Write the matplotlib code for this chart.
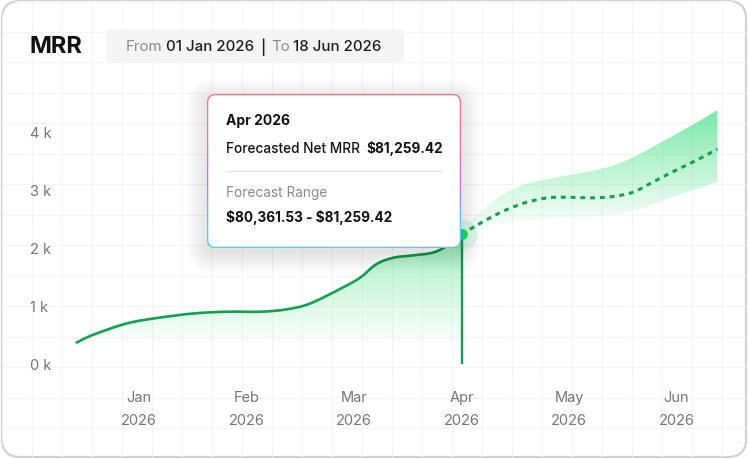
import numpy as np
import matplotlib
matplotlib.use('Agg')
import matplotlib.pyplot as plt
from matplotlib.patches import FancyBboxPatch, PathPatch
from matplotlib.path import Path
from matplotlib.colors import to_rgb

plt.rcParams['font.family'] = ['Inter', 'DejaVu Sans']

# values in thousands, x in months counted from Jan 2026
months = ['Jan', 'Feb', 'Mar', 'Apr', 'May', 'Jun']
year = '2026'
y_ticks = [0, 1, 2, 3, 4]
actual_x = [-0.58, -0.43, -0.11, 0.2, 0.51, 0.82, 1.13, 1.37, 1.59, 1.9, 2.06, 2.21, 2.37, 2.55, 2.74, 2.89, 3.0]
actual_y = [0.37, 0.5, 0.7, 0.8, 0.87, 0.9, 0.9, 0.94, 1.04, 1.32, 1.49, 1.72, 1.83, 1.87, 1.92, 2.06, 2.23]
fc_x = [3.0, 3.2, 3.4, 3.6, 3.8, 4.0, 4.2, 4.4, 4.6, 4.8, 5.0, 5.2, 5.38]
fc_mid = [2.23, 2.45, 2.64, 2.78, 2.86, 2.87, 2.86, 2.88, 2.96, 3.15, 3.34, 3.52, 3.70]
fc_hi = [2.3, 2.66, 2.93, 3.10, 3.18, 3.25, 3.32, 3.41, 3.56, 3.76, 3.96, 4.17, 4.37]
fc_lo = [2.2, 2.33, 2.42, 2.46, 2.50, 2.52, 2.54, 2.57, 2.63, 2.76, 2.90, 3.02, 3.14]
tip_title = 'Apr 2026'
tip_value = '$81,259.42'
tip_range = '$80,361.53 - $81,259.42'

W, H = 748, 460
fig = plt.figure(figsize=(W / 100, H / 100), dpi=100)
renderer = fig.canvas.get_renderer()


def pixel_axes(z):
    a = fig.add_axes([0, 0, 1, 1])
    a.set_xlim(0, W)
    a.set_ylim(H, 0)
    a.axis('off')
    a.set_zorder(z)
    a.patch.set_visible(False)
    return a


def spline(xs, ys):
    # smooth curve through the points, drawn as cubic bezier segments
    p = np.column_stack([xs, ys]).astype(float)
    q = np.vstack([p[0], p, p[-1]])
    verts = [p[0]]
    for i in range(len(p) - 1):
        a, b, c, d = q[i], q[i + 1], q[i + 2], q[i + 3]
        verts += [b + (c - a) / 6, c - (d - b) / 6, c]
    codes = [Path.MOVETO] + [Path.CURVE4] * (len(verts) - 1)
    return verts, codes


# card + faint background grid
bg = pixel_axes(0)
card = FancyBboxPatch((2, 2), W - 4, H - 4, boxstyle='round,pad=0,rounding_size=18',
                      fc='white', ec='#d2d2d2', lw=1.6)
bg.add_patch(card)
for gx in np.arange(2, W, 30):
    ln, = bg.plot([gx, gx], [0, H], color='#f4f4f4', lw=0.8)
    ln.set_clip_path(card)
for gy in np.arange(2, H, 30.5):
    ln, = bg.plot([0, W], [gy, gy], color='#f4f4f4', lw=0.8)
    ln.set_clip_path(card)

# header
bg.text(30, 47, 'MRR', fontsize=17, fontweight='bold', color='#111111', va='center')
bg.add_patch(FancyBboxPatch((106, 30), 298, 33, boxstyle='round,pad=0,rounding_size=4',
                            fc='#f4f4f4', ec='none'))
x = 126
for s, c, wt, gap in [('From', '#8a8a8a', 'normal', 3.5), ('01 Jan 2026', '#1c1c1c', 'medium', 6),
                      ('|', '#1c1c1c', 'medium', 6), ('To', '#8a8a8a', 'normal', 2.5),
                      ('18 Jun 2026', '#1c1c1c', 'medium', 0)]:
    t = bg.text(x, 47, s, fontsize=10.8, color=c, fontweight=wt, va='center', parse_math=False)
    x = t.get_window_extent(renderer).x1 + gap

# chart axes, placed so that Jan..Jun and 0k..4k fall where they do in the reference
px0, py0, sx, sy = 139, 365, 107.5, 58.1
L, R, T, B = 70, 735, 90, 365
ax = fig.add_axes([L / W, 1 - B / H, (R - L) / W, (B - T) / H])
ax.set_zorder(1)
ax.patch.set_visible(False)


def gradient_image(clip, xs, color, amax, y0, y1, power=1.0):
    ys = np.linspace(0, 1, 256) ** power
    img = np.zeros((256, 2, 4))
    img[..., :3] = to_rgb(color)
    img[..., 3] = (amax * ys)[:, None]
    im = ax.imshow(img, extent=[min(xs), max(xs), y0, y1], origin='lower', aspect='auto',
                   interpolation='bilinear', zorder=2)
    im.set_clip_path(clip, transform=ax.transData)


# area under the actual line
v, c = spline(actual_x, actual_y)
v = v + [(actual_x[-1], 0), (actual_x[0], 0), (actual_x[0], 0)]
c = c + [Path.LINETO, Path.LINETO, Path.CLOSEPOLY]
gradient_image(Path(v, c), actual_x, '#3ee07f', 0.48, 0.3, 2.3)

# forecast range band
vt, ct = spline(fc_x, fc_hi)
vb, cb = spline(fc_x[::-1], fc_lo[::-1])
cb[0] = Path.LINETO
band = Path(vt + vb + [vt[0]], ct + cb + [Path.CLOSEPOLY])
gradient_image(band, fc_x, '#3ee07f', 0.72, 2.2, 4.4, power=1.15)

v, c = spline(actual_x, actual_y)
ax.add_patch(PathPatch(Path(v, c), fill=False, ec='#12a14f', lw=1.9, capstyle='round', zorder=4))
v, c = spline(fc_x, fc_mid)
ax.add_patch(PathPatch(Path(v, c), fill=False, ec='#12a14f', lw=2.2, linestyle=(0, (1.6, 1.6)), zorder=4))
hx, hy = fc_x[0], fc_mid[0]
ax.plot([hx, hx], [0, hy], color='#12a14f', lw=1.7, zorder=4)
ax.scatter([hx], [hy], s=470, color='#22e06a', alpha=0.15, lw=0, zorder=5)
ax.scatter([hx], [hy], s=60, color='#1fe36b', lw=0, zorder=6)

ax.set_xlim((L - px0) / sx, (R - px0) / sx)
ax.set_ylim((py0 - B) / sy, (py0 - T) / sy)
ax.set_xticks(range(len(months)))
ax.set_xticklabels([f'{m}\n{year}' for m in months], fontsize=10.5, color='#757575', linespacing=1.8)
ax.set_yticks(y_ticks)
ax.set_yticklabels([f'{v} k' for v in y_ticks], fontsize=10.5, color='#757575')
for lab in ax.get_yticklabels():
    lab.set_horizontalalignment('left')
ax.tick_params(axis='y', length=0, pad=(L - 30) * 0.72)
ax.tick_params(axis='x', length=0, pad=19)
for sp in ax.spines.values():
    sp.set_visible(False)

# tooltip
tp = pixel_axes(3)
bx0, by0, bx1, by1 = 207, 95, 461, 249
for i in range(14):
    tp.add_patch(FancyBboxPatch((bx0 - i * 1.6, by0 - i * 1.6 + 5), bx1 - bx0 + i * 3.2, by1 - by0 + i * 3.2,
                                boxstyle=f'round,pad=0,rounding_size={8 + i * 1.6}',
                                fc='black', ec='none', alpha=0.006))
outer = FancyBboxPatch((bx0, by0), bx1 - bx0, by1 - by0, boxstyle='round,pad=0,rounding_size=8',
                       fc='none', ec='none')
tp.add_patch(outer)
stops = [0.0, 0.4, 0.6, 0.75, 0.9, 1.0]
cols = [to_rgb(c) for c in ['#ff7484', '#ee6cb4', '#c272e0', '#86a6f2', '#3cdae0', '#4ed4ea']]
tv = np.linspace(0, 1, 200)
grad = np.zeros((200, 200, 3))
for k in range(3):
    grad[:, :, k] = np.interp(tv, stops, [c[k] for c in cols])[:, None]
blue = np.array(to_rgb('#8ab4f8'))
mix = (np.clip((tv - 0.8) / 0.2, 0, 1)[:, None] * tv[None, :])[..., None]
grad = grad * (1 - mix) + blue * mix
im = tp.imshow(grad, extent=[bx0, bx1, by1, by0], origin='upper', aspect='auto', zorder=2)
im.set_clip_path(outer)
tp.add_patch(FancyBboxPatch((bx0 + 1.3, by0 + 1.3), bx1 - bx0 - 2.6, by1 - by0 - 2.6,
                            boxstyle='round,pad=0,rounding_size=7', fc='white', ec='none', zorder=3))
tp.text(226, 121, tip_title, fontsize=10, fontweight='bold', color='#111111', va='center', zorder=4)
t = tp.text(226, 149, 'Forecasted Net MRR', fontsize=9.8, fontweight='medium', color='#111111',
            va='center', zorder=4)
tp.text(t.get_window_extent(renderer).x1 + 6, 149, tip_value, fontsize=9.8, fontweight='bold',
        color='#111111', va='center', zorder=4, parse_math=False)
tp.plot([226, 442], [172, 172], color='#e6e6e6', lw=1, zorder=4)
tp.text(226, 193, 'Forecast Range', fontsize=9.8, color='#8a8a8a', va='center', zorder=4)
tp.text(226, 218, tip_range, fontsize=9.8, fontweight='bold', color='#111111', va='center', zorder=4,
        parse_math=False)
tp.set_xlim(0, W)
tp.set_ylim(H, 0)

fig.savefig('out.png', dpi=100)
